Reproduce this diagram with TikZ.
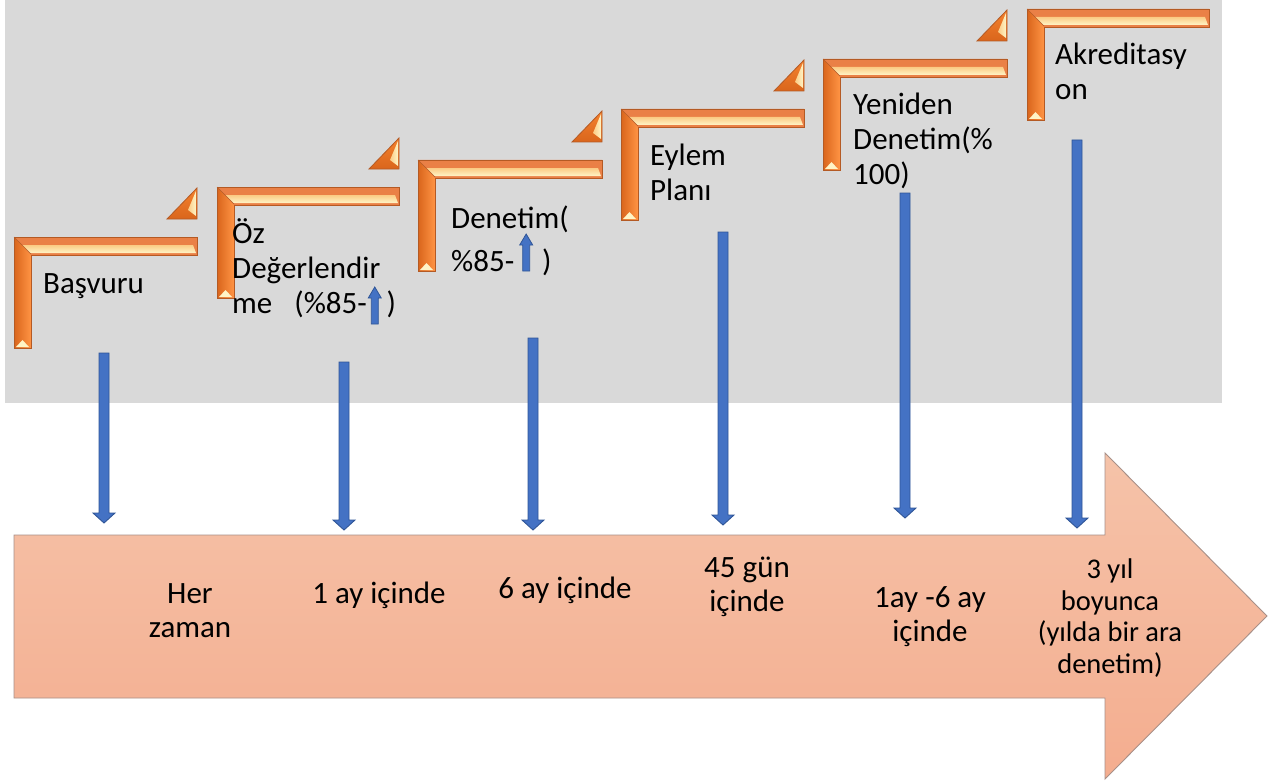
\documentclass[tikz,border=0pt]{standalone}
\usepackage{fontspec}
\setmainfont{Carlito}
\definecolor{bggray}{HTML}{D9D9D9}
\definecolor{orDark}{HTML}{D9651C}
\definecolor{orMid}{HTML}{F5822E}
\definecolor{orBright}{HTML}{FF9444}
\definecolor{orTop}{HTML}{EA8046}
\definecolor{orLine}{HTML}{B45A24}
\definecolor{paleA}{HTML}{FBCB84}
\definecolor{paleB}{HTML}{FFF4C6}
\definecolor{peachTop}{HTML}{F5C3A9}
\definecolor{peachBot}{HTML}{F4AD8F}
\definecolor{peachLine}{HTML}{A89088}
\definecolor{blueFill}{HTML}{4472C4}
\definecolor{blueLine}{HTML}{2F5597}
\tikzset{
  toptext/.style={anchor=base west, align=left, inner sep=0pt, font=\fontsize{31}{35}\selectfont, text=black},
  bottext/.style={anchor=base, align=center, inner sep=0pt, font=\fontsize{31}{34}\selectfont, text=black},
  blockarrow/.style={fill=blueFill, draw=blueLine, line width=0.9pt, line join=miter},
}
% bevelled L frame: name, x0, y0 (outer top-left), x1 (right end), y1 (bottom end)
\newcommand\bevelL[5]{%
  \coordinate (#1) at (#2,#3);
  \shade[left color=orDark, right color=orBright]
    (#2,#3) -- ({#2+17},{#3+17}) -- ({#2+17},#5) -- (#2,#5) -- cycle;
  \fill[orTop] (#2,#3) -- (#4,#3) -- (#4,{#3+18}) -- ({#2+17},{#3+18}) -- cycle;
  \shade[top color=paleA, bottom color=paleB]
    ({#2+8},{#3+8}) -- ({#4-4},{#3+8}) -- ({#4-1},{#3+16}) -- ({#2+16},{#3+16}) -- cycle;
  \fill[paleB] ({#2+2},{#5-1}) -- ({#2+15},{#5-1}) -- ({#2+8.5},{#5-8}) -- cycle;
  \draw[orLine, line width=0.5pt] (#2,#3) -- ({#2+17},{#3+17});
  \draw[orLine, line width=0.9pt, line join=miter]
    (#2,#3) -- (#4,#3) -- (#4,{#3+18}) -- ({#2+17},{#3+18}) -- ({#2+17},#5) -- (#2,#5) -- cycle;
}
% small bevelled triangle: name, right x, bottom y
\newcommand\smalltri[3]{%
  \coordinate (#1) at (#2,#3);
  \shade[top color=orMid, bottom color=orDark]
    ({#2-30},#3) -- (#2,{#3-31}) -- (#2,#3) -- cycle;
  \shade[left color=paleA, right color=paleB]
    ({#2-1},{#3-28}) -- ({#2-1},{#3-3}) -- ({#2-9},{#3-9}) -- cycle;
  \draw[orLine, line width=0.8pt, line join=miter]
    ({#2-30},#3) -- (#2,{#3-31}) -- (#2,#3) -- cycle;
}
% downward block arrow: name, x, y top, y bottom (tip)
\newcommand\blockdown[4]{%
  \coordinate (#1-s) at (#2,#3);
  \coordinate (#1-e) at (#2,#4);
  \filldraw[blockarrow]
    ({#2-5},#3) -- ({#2+5},#3) -- ({#2+5},{#4-10}) -- ({#2+11},{#4-10}) -- (#1-e)
    -- ({#2-11},{#4-10}) -- ({#2-5},{#4-10}) -- cycle;
}
\newcommand\upa[1]{\tikz[baseline=#1pt, x=1pt, y=1pt]
  \filldraw[fill=blueFill, draw=blueLine, line width=0.8pt, line join=miter]
  (3,0) -- (10,0) -- (10,26) -- (13,26) -- (6.5,37) -- (0,26) -- (3,26) -- cycle;}
\begin{document}
\begin{tikzpicture}[x=1pt, y=-1pt]
\useasboundingbox (0,0) rectangle (1269,781);
\fill[white] (0,0) rectangle (1269,781);
% gray panel
\fill[bggray] (5,0) rectangle (1222,403);

% big timeline arrow
\shade[top color=peachTop, bottom color=peachBot, draw=peachLine, line width=0.9pt, line join=miter]
  (14,535) -- (1105,535) -- (1105,453) -- (1267,616) -- (1105,779) -- (1105,698) -- (14,698) -- cycle;
\coordinate (timeline) at (14,535);

% step frames
\bevelL{s1}{14}{237}{197}{348}
\bevelL{s2}{217}{187}{399}{298}
\bevelL{s3}{418}{160}{602}{271}
\bevelL{s4}{621}{109}{804}{220}
\bevelL{s5}{823}{59}{1007}{170}
\bevelL{s6}{1027}{9}{1209}{120}

% small triangles
\smalltri{tr1}{197}{219}
\smalltri{tr2}{399}{169}
\smalltri{tr3}{602}{142}
\smalltri{tr4}{804}{91}
\smalltri{tr5}{1007}{41}

% step texts (anchor = baseline of last line)
\node[toptext] (t1) at (43,293) {Başvuru};
\node[toptext] (t2) at (232,313) {Öz\\Değerlendir\\me\hspace{22pt}(\%85-\hspace{1pt}\upa{11}\hspace{5pt})};
\node[toptext] (t3) at (451,271) {Denetim(\\\%85-\hspace{5pt}\upa{0}\hspace{9pt})};
\node[toptext] (t4) at (650,200) {Eylem\\Planı};
\node[toptext] (t5) at (853,184) {Yeniden\\Denetim(\%\\100)};
\node[toptext] (t6) at (1055,100) {Akreditasy\\on};

% down arrows
\blockdown{a1}{104}{353}{523}
\blockdown{a2}{344}{362}{530}
\blockdown{a3}{533}{338}{530}
\blockdown{a4}{723}{232}{525}
\blockdown{a5}{905}{193}{518}
\blockdown{a6}{1077}{140}{528}

% timeline texts (anchor = baseline of last line)
\node[bottext] (b1) at (190,637) {Her\\zaman};
\node[bottext] (b2) at (379,603) {1 ay içinde};
\node[bottext] (b3) at (565,598) {6 ay içinde};
\node[bottext] (b4) at (747,611) {45 gün\\içinde};
\node[bottext] (b5) at (930,641) {1ay -6 ay\\içinde};
\node[bottext, font=\fontsize{28.5}{31.5}\selectfont] (b6) at (1110,673) {3 yıl\\boyunca\\(yılda bir ara\\denetim)};
\end{tikzpicture}
\end{document}
